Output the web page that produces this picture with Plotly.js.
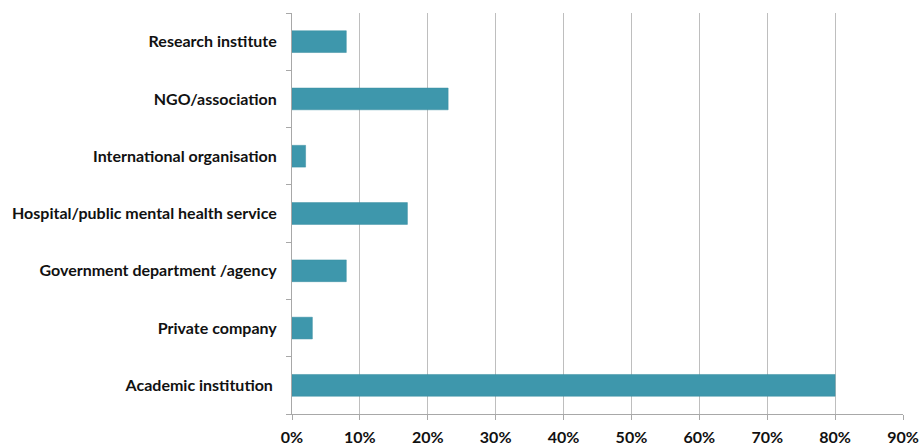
<!DOCTYPE html>
<html>
<head>
<meta charset="utf-8">
<script src="https://cdn.plot.ly/plotly-3.0.1.min.js"></script>
<style>html,body{margin:0;padding:0;background:#fff;}#chart{width:919px;height:446px;}</style>
</head>
<body>
<div id="chart"></div>
<script>
const categories = ["Academic institution", "Private company", "Government department /agency", "Hospital/public mental health service", "International organisation", "NGO/association", "Research institute"];
const tickLabels = ["Academic institution\u00a0", "Private company", "Government department /agency", "Hospital/public mental health service", "International organisation", "NGO/association", "Research institute"];
const values = [0.80, 0.03, 0.08, 0.17, 0.02, 0.23, 0.08];
const xTickVals = [0, 0.1, 0.2, 0.3, 0.4, 0.5, 0.6, 0.7, 0.8, 0.9];
const xTickText = ["0%", "10%", "20%", "30%", "40%", "50%", "60%", "70%", "80%", "90%"];

const trace = {
  type: "bar",
  orientation: "h",
  y: categories,
  x: values,
  width: 0.38,
  marker: {color: "#3E97AC", line: {color: "#3A8FA3", width: 0.5}},
  hoverinfo: "x+y"
};

const layout = {
  width: 919,
  height: 446,
  margin: {l: 292, r: 16, t: 13, b: 32},
  paper_bgcolor: "#ffffff",
  plot_bgcolor: "#ffffff",
  showlegend: false,
  font: {family: "Lato, 'Open Sans', sans-serif", size: 16, color: "#111111"},
  xaxis: {
    range: [0, 0.9],
    tickvals: xTickVals,
    ticktext: xTickText,
    showgrid: true,
    gridcolor: "#BEBEBE",
    gridwidth: 1,
    zeroline: false,
    showline: true,
    linecolor: "#A8A8A8",
    linewidth: 1,
    ticks: "outside",
    ticklen: 5,
    tickcolor: "#A8A8A8",
    ticklabelstandoff: 4,
    tickfont: {family: "Lato, sans-serif", size: 16, color: "#111111", weight: "bold"},
    fixedrange: true
  },
  yaxis: {
    type: "category",
    categoryorder: "array",
    categoryarray: categories,
    tickvals: categories,
    ticktext: tickLabels,
    tickson: "boundaries",
    ticks: "outside",
    ticklen: 5,
    tickcolor: "#A8A8A8",
    showline: true,
    linecolor: "#A8A8A8",
    linewidth: 1,
    showgrid: false,
    zeroline: false,
    ticklabelstandoff: 11,
    tickfont: {family: "Lato, sans-serif", size: 16, color: "#111111", weight: "bold"},
    fixedrange: true
  }
};

Plotly.newPlot("chart", [trace], layout, {displayModeBar: false, staticPlot: true});
</script>
</body>
</html>
